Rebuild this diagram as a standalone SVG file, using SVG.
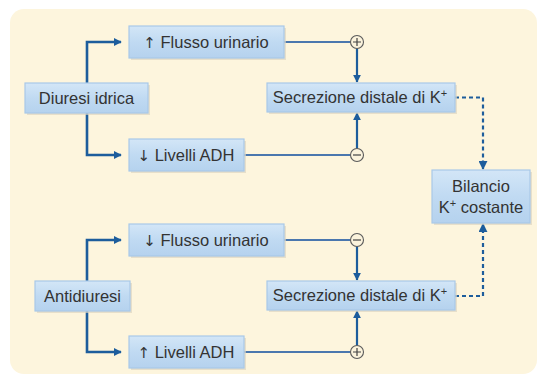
<svg xmlns="http://www.w3.org/2000/svg" width="539" height="379" viewBox="0 0 539 379">
<defs>
<linearGradient id="bx" x1="0" y1="0" x2="0" y2="1">
<stop offset="0" stop-color="#d3e6f7"/>
<stop offset="0.5" stop-color="#c0daf2"/>
<stop offset="1" stop-color="#b5d2ee"/>
</linearGradient>
<marker id="ah" viewBox="0 0 10 10" refX="9" refY="5" markerWidth="8" markerHeight="8" markerUnits="userSpaceOnUse" orient="auto">
<path d="M0,0 L10,5 L0,10 z" fill="#1d5d9c"/>
</marker>
<marker id="ahd" viewBox="0 0 10 10" refX="9" refY="5" markerWidth="9" markerHeight="9" markerUnits="userSpaceOnUse" orient="auto">
<path d="M0,0 L10,5 L0,10 z" fill="#1d5d9c"/>
</marker>
</defs>
<style>
.box{fill:url(#bx);stroke:#a9c9e8;stroke-width:1.2}
.sh{fill:#ddd6c2;opacity:0.7}
.t{font-family:"Liberation Sans",Arial,sans-serif;font-size:16.5px;fill:#333;text-anchor:middle}
.ar{font-family:"DejaVu Sans",sans-serif;font-size:15px}
.br{fill:none;stroke:#1d5d9c;stroke-width:2.6}
.ln{fill:none;stroke:#4a77ae;stroke-width:2}
.dn{fill:none;stroke:#1d5d9c;stroke-width:2.2}
.ds{fill:none;stroke:#1d5d9c;stroke-width:2.2;stroke-dasharray:4 3}
.cr{fill:#fbf3dc;stroke:#5a5a5a;stroke-width:1.1}
.sg{stroke:#444;stroke-width:1.2}
</style>
<rect x="0" y="0" width="539" height="379" fill="#ffffff"/>
<rect x="10" y="9" width="527" height="365" rx="14" fill="#fdf5dd"/>

<g id="connectors">
<path class="br" d="M87 83 V42 H121" marker-end="url(#ah)"/>
<path class="br" d="M87 113 V155 H121" marker-end="url(#ah)"/>
<path class="ln" d="M284 42 H350.5"/>
<path class="ln" d="M244 155 H350.5"/>
<path class="dn" d="M357 48.5 V82" marker-end="url(#ah)"/>
<path class="dn" d="M357 148.5 V113" marker-end="url(#ah)"/>
<path class="ds" d="M455 97.5 H483 V169" marker-end="url(#ahd)"/>
<path class="br" d="M87 281 V240 H121" marker-end="url(#ah)"/>
<path class="br" d="M87 311 V352 H121" marker-end="url(#ah)"/>
<path class="ln" d="M284 240 H350.5"/>
<path class="ln" d="M244 352 H350.5"/>
<path class="dn" d="M357 246.5 V280" marker-end="url(#ah)"/>
<path class="dn" d="M357 345.5 V311" marker-end="url(#ah)"/>
<path class="ds" d="M455 296 H483 V224" marker-end="url(#ahd)"/>
</g>

<g id="sign-plus-top">
<circle class="cr" cx="357" cy="42" r="6.5"/>
<path class="sg" d="M353 42 H361 M357 38 V46"/>
</g>
<g id="sign-minus-top">
<circle class="cr" cx="357" cy="155" r="6.5"/>
<path class="sg" d="M353 155 H361"/>
</g>
<g id="sign-minus-bottom">
<circle class="cr" cx="357" cy="240" r="6.5"/>
<path class="sg" d="M353 240 H361"/>
</g>
<g id="sign-plus-bottom">
<circle class="cr" cx="357" cy="352" r="6.5"/>
<path class="sg" d="M353 352 H361 M357 348 V356"/>
</g>

<g id="diuresi">
<rect class="sh" x="27" y="85" width="123" height="30"/>
<rect class="box" x="25" y="83" width="123" height="30"/>
<text class="t" x="86.5" y="104">Diuresi idrica</text>
</g>
<g id="flusso-up">
<rect class="sh" x="131" y="28" width="155" height="32"/>
<rect class="box" x="129" y="26" width="155" height="32"/>
<text class="t" x="206" y="48"><tspan class="ar">↑</tspan> Flusso urinario</text>
</g>
<g id="livelli-down">
<rect class="sh" x="131" y="141" width="115" height="32"/>
<rect class="box" x="129" y="139" width="115" height="32"/>
<text class="t" x="186" y="161"><tspan class="ar">↓</tspan> Livelli ADH</text>
</g>
<g id="secrezione-top">
<rect class="sh" x="269" y="85" width="188" height="29"/>
<rect class="box" x="267" y="83" width="188" height="29"/>
<text class="t" x="360" y="103">Secrezione distale di K<tspan font-size="11" dy="-6">+</tspan></text>
</g>
<g id="bilancio">
<rect class="sh" x="434" y="172" width="98" height="53"/>
<rect class="box" x="432" y="170" width="98" height="53"/>
<text class="t" x="481" y="192">Bilancio</text>
<text class="t" x="481" y="213">K<tspan font-size="11" dy="-6">+</tspan><tspan dy="6"> costante</tspan></text>
</g>
<g id="antidiuresi">
<rect class="sh" x="37" y="283" width="95" height="30"/>
<rect class="box" x="35" y="281" width="95" height="30"/>
<text class="t" x="82.5" y="302">Antidiuresi</text>
</g>
<g id="flusso-down">
<rect class="sh" x="131" y="226" width="155" height="32"/>
<rect class="box" x="129" y="224" width="155" height="32"/>
<text class="t" x="206" y="246"><tspan class="ar">↓</tspan> Flusso urinario</text>
</g>
<g id="livelli-up">
<rect class="sh" x="131" y="338" width="115" height="32"/>
<rect class="box" x="129" y="336" width="115" height="32"/>
<text class="t" x="186" y="358"><tspan class="ar">↑</tspan> Livelli ADH</text>
</g>
<g id="secrezione-bottom">
<rect class="sh" x="269" y="283" width="188" height="29"/>
<rect class="box" x="267" y="281" width="188" height="29"/>
<text class="t" x="360" y="301">Secrezione distale di K<tspan font-size="11" dy="-6">+</tspan></text>
</g>
</svg>
